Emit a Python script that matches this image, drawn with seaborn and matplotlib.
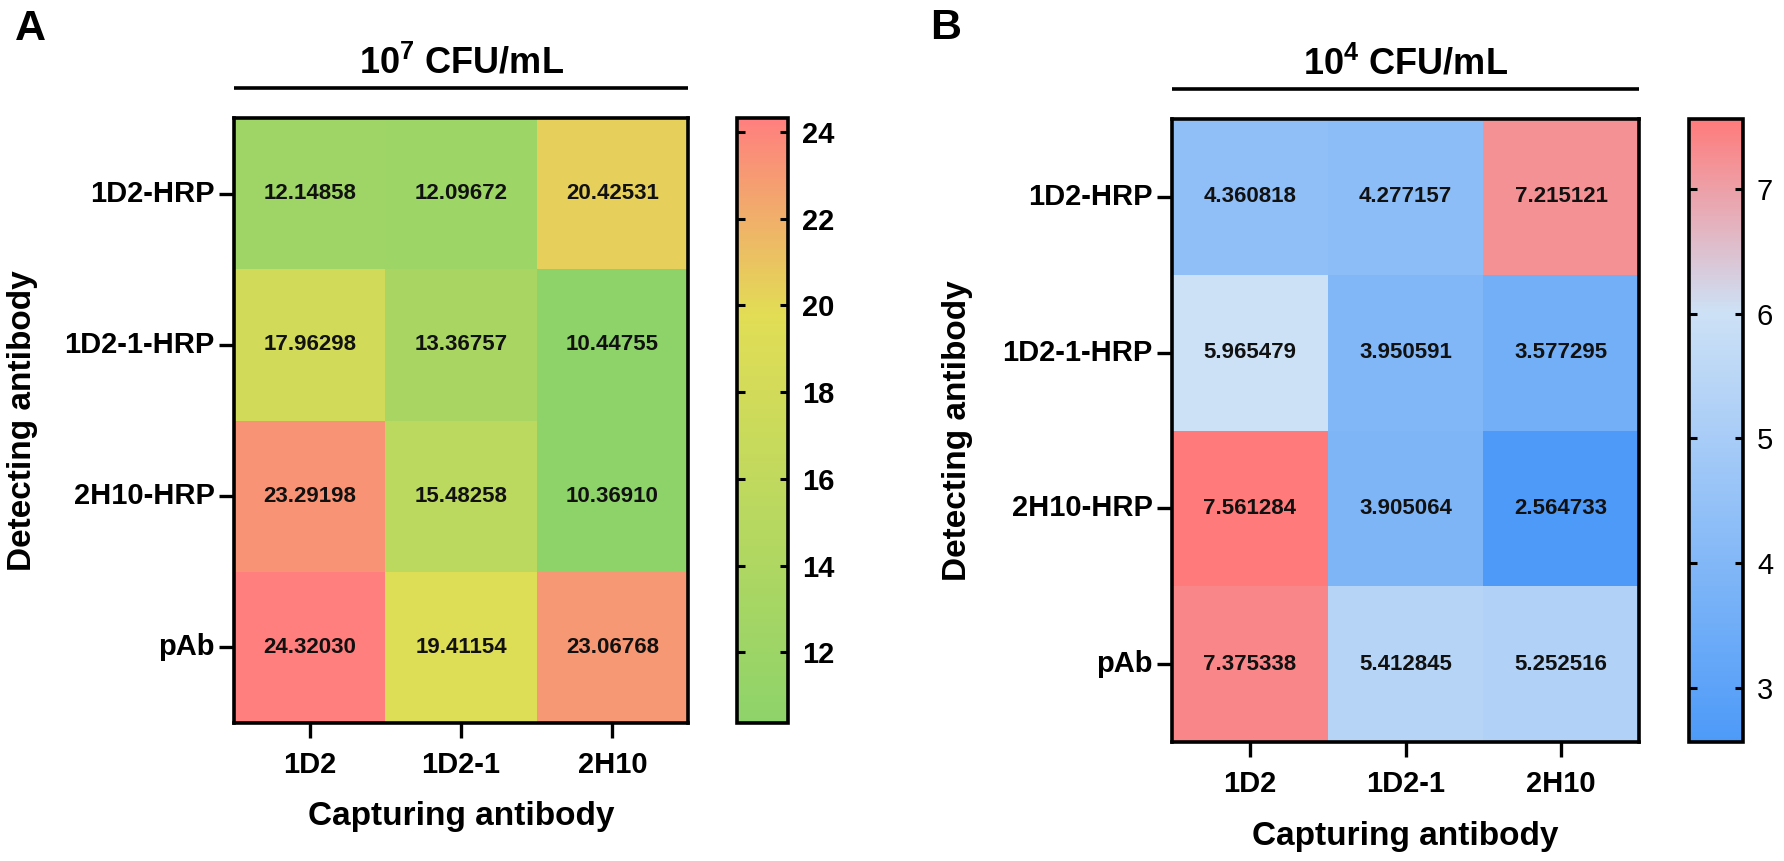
import numpy as np
import pandas as pd
import matplotlib
matplotlib.use("Agg")
import matplotlib.pyplot as plt
import seaborn as sns
from matplotlib.colors import LinearSegmentedColormap

# font setup (Arial-like bold everywhere)
plt.rcParams['font.family'] = ['Liberation Sans', 'DejaVu Sans']
plt.rcParams['font.weight'] = 'bold'
plt.rcParams['mathtext.fontset'] = 'custom'
plt.rcParams['mathtext.rm'] = 'Liberation Sans'
plt.rcParams['mathtext.bf'] = 'Liberation Sans:bold'

# data
capturing = ["1D2", "1D2-1", "2H10"]
detecting = ["1D2-HRP", "1D2-1-HRP", "2H10-HRP", "pAb"]

vals_a = [[12.14858, 12.09672, 20.42531],
          [17.96298, 13.36757, 10.44755],
          [23.29198, 15.48258, 10.36910],
          [24.32030, 19.41154, 23.06768]]
vals_b = [[4.360818, 4.277157, 7.215121],
          [5.965479, 3.950591, 3.577295],
          [7.561284, 3.905064, 2.564733],
          [7.375338, 5.412845, 5.252516]]

ticks_a = [12, 14, 16, 18, 20, 22, 24]
ticks_b = [3, 4, 5, 6, 7]

df_a = pd.DataFrame(vals_a, index=detecting, columns=capturing)
df_b = pd.DataFrame(vals_b, index=detecting, columns=capturing)

# colour maps
cmap_a = LinearSegmentedColormap.from_list(
    "gyr", [(0.0, "#8ed36a"), (0.676, "#e2dd55"), (1.0, "#ff7f7f")])
cmap_b = LinearSegmentedColormap.from_list(
    "bwr_soft", [(0.0, "#4d9af8"), (0.69, "#cde1f6"), (1.0, "#ff7b7b")])

W, H = 1784, 861
fig = plt.figure(figsize=(W / 100, H / 100), dpi=100)


def box(x0, y0, x1, y1):
    return [x0 / W, 1 - y1 / H, (x1 - x0) / W, (y1 - y0) / H]


ax_a = fig.add_axes(box(234, 118, 688, 723))
cax_a = fig.add_axes(box(737, 118, 788, 723))
ax_b = fig.add_axes(box(1172, 119, 1639, 742))
cax_b = fig.add_axes(box(1689, 119, 1743, 742))


def draw_panel(ax, cax, df, cmap, fmt, ticks, title, letter, letter_xy,
               ylab_x, xlab_px, cbar_bold):
    sns.heatmap(df, ax=ax, cbar_ax=cax, cmap=cmap, annot=True, fmt=fmt,
                annot_kws={"fontsize": 16, "fontweight": "bold", "color": "#111111"})
    for s in ax.spines.values():
        s.set_visible(True)
        s.set_linewidth(2.6)
        s.set_color("black")
    ax.tick_params(axis="both", length=11, width=2.4, color="black",
                   labelsize=21)
    ax.tick_params(axis="x", pad=9)
    ax.tick_params(axis="y", pad=3)
    ax.set_yticklabels(detecting, rotation=0, fontweight="bold")
    ax.set_xticklabels(capturing, rotation=0, fontweight="bold")

    h = ax.get_position().height * H
    ax.set_xlabel("Capturing antibody", fontsize=24, fontweight="bold")
    ax.set_ylabel("Detecting antibody", fontsize=24, fontweight="bold")
    ax.xaxis.label.set_va("center")
    ax.yaxis.label.set_va("center")
    ax.xaxis.set_label_coords(0.5, -xlab_px / h)
    ax.yaxis.set_label_coords(ylab_x, 0.5)

    # concentration header with rule
    ax.text(0.5, 1 + 55 / h, title, transform=ax.transAxes, ha="center",
            va="center", fontsize=26, fontweight="bold")
    ax.plot([0, 1], [1 + 30 / h, 1 + 30 / h], transform=ax.transAxes,
            color="black", lw=2.6, clip_on=False, solid_capstyle="butt")

    fig.text(letter_xy[0] / W, 1 - letter_xy[1] / H, letter, ha="center",
             va="center", fontsize=31, fontweight="bold")

    cbar = ax.collections[0].colorbar
    cbar.set_ticks(ticks)
    cbar.outline.set_linewidth(2.6)
    cbar.outline.set_edgecolor("black")
    cax.tick_params(direction="in", left=True, right=True, length=6,
                    width=2.2, pad=10, labelsize=21)
    for t in cax.get_yticklabels():
        t.set_fontweight("bold" if cbar_bold else "normal")


draw_panel(ax_a, cax_a, df_a, cmap_a, ".5f", ticks_a,
           r"$\mathbf{10^{7}}$ CFU/mL", "A", (30, 29), -0.465, 93, True)
draw_panel(ax_b, cax_b, df_b, cmap_b, ".6f", ticks_b,
           r"$\mathbf{10^{4}}$ CFU/mL", "B", (946, 28), -0.46, 95, False)

fig.savefig("out.png", dpi=100)
